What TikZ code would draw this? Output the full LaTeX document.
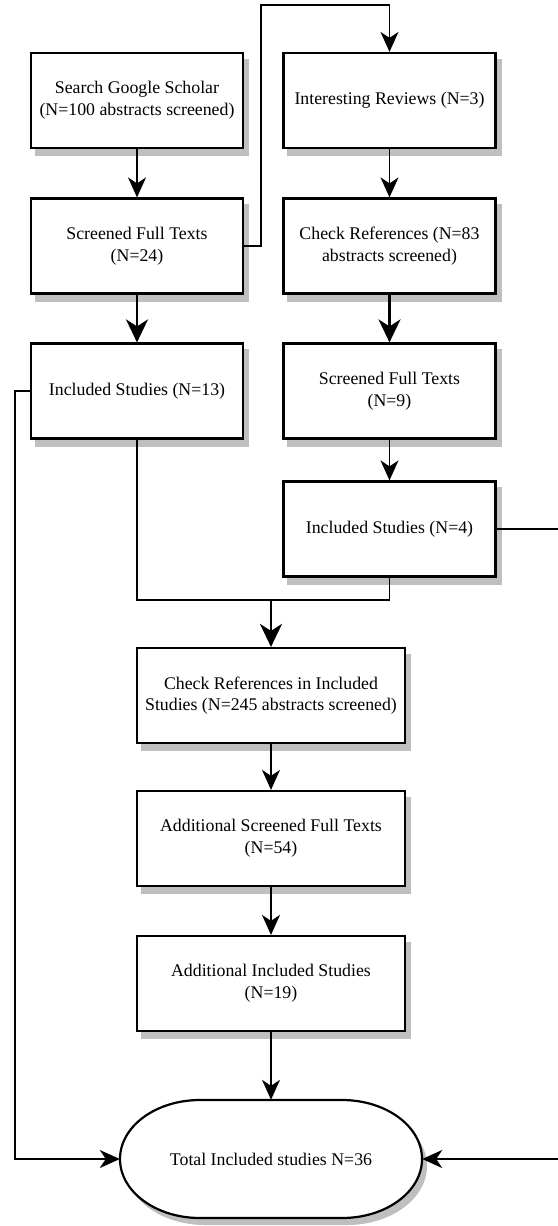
\documentclass[tikz,border=0pt]{standalone}
\usepackage{fontspec}
\setmainfont{Liberation Serif}
\usepackage{tikz}
\usetikzlibrary{arrows.meta, backgrounds}
\tikzset{>={Stealth[length=20pt, width=18pt, inset=6pt]}}
\tikzset{
    box/.style={draw, line width=2.2pt, fill=white, minimum width=212, minimum height=95,
        align=center, inner sep=2pt},
    shade/.style={fill=black!25},
    arr/.style={line width=1.8pt, ->},
    bigarr/.style={line width=2.6pt, ->, >={Stealth[length=23pt, width=22pt, inset=7pt]}},
}
\newcommand*{\txt}{\fontsize{17.8pt}{21.7pt}\selectfont}
\newcommand*{\terminal}{(200, 1100)--(342, 1100) arc[start angle=90, end angle=0, x radius=80, y radius=-59]
    arc[start angle=0, end angle=-90, x radius=80, y radius=-59]--(200, 1218)
    arc[start angle=270, end angle=180, x radius=80, y radius=-59]
    arc[start angle=180, end angle=90, x radius=80, y radius=-59]--cycle}

\begin{document}
\begin{tikzpicture}[x=1pt, y=-1pt, font=\txt]
    \useasboundingbox (0, 0) rectangle (557, 1226);
    % left column
    \node[box](sgs)at(137, 100.5){Search Google Scholar\\(N=100 abstracts screened)};
    \node[box](sft)at(137, 246){Screened Full Texts\\(N=24)};
    \node[box](inc13)at(137, 391){Included Studies (N=13)};
    % right column
    \node[box](rev)at(389.5, 100.5){Interesting Reviews (N=3)};
    \node[box](ref)at(389.5, 246){Check References (N=83\\abstracts screened)};
    \node[box](sft9)at(389.5, 391){Screened Full Texts\\(N=9)};
    \node[box](inc4)at(389.5, 529){Included Studies (N=4)};
    % middle column
    \node[box, minimum width=268](refin)at(271, 695.5){Check References in Included\\Studies (N=245 abstracts screened)};
    \node[box, minimum width=268](asft)at(271, 838.5){Additional Screened Full Texts\\(N=54)};
    \node[box, minimum width=268](ainc)at(271, 983.5){Additional Included Studies\\(N=19)};
    \draw[line width=2.2pt, fill=white]\terminal;
    \node[minimum width=302, minimum height=118](tot)at(271, 1159){Total Included studies N=36};
    % shadows
    \begin{scope}[on background layer]
        \foreach \n in {sgs, sft, inc13, rev, ref, sft9, inc4, refin, asft, ainc}
            \fill[shade]([shift={(5, 7)}]\n.north west) rectangle ([shift={(5, 7)}]\n.south east);
        \fill[shade, shift={(5, 7)}]\terminal;
    \end{scope}
    \coordinate(top)at(261, 5);
    \coordinate(join)at(271, 600);
    \coordinate(rgt)at(565, 529);
    \draw[arr](sgs)--(sft);
    \draw[bigarr](sft)--(inc13);
    \draw[arr](sft.east)-|(top)-|(rev.north);
    \draw[arr](rev)--(ref);
    \draw[bigarr](ref)--(sft9);
    \draw[arr](sft9)--(inc4);
    \draw[line width=1.8pt](inc13.south)|-(join)-|(inc4.south);
    \draw[bigarr](join)--(refin.north);
    \draw[arr](refin)--(asft);
    \draw[arr](asft)--(ainc);
    \draw[arr](ainc)--(tot.north);
    \draw[arr](inc13.west)-|(15, 1159)--(tot.west);
    \draw[arr](inc4.east)--(rgt)|-(tot.east);
\end{tikzpicture}
\end{document}
